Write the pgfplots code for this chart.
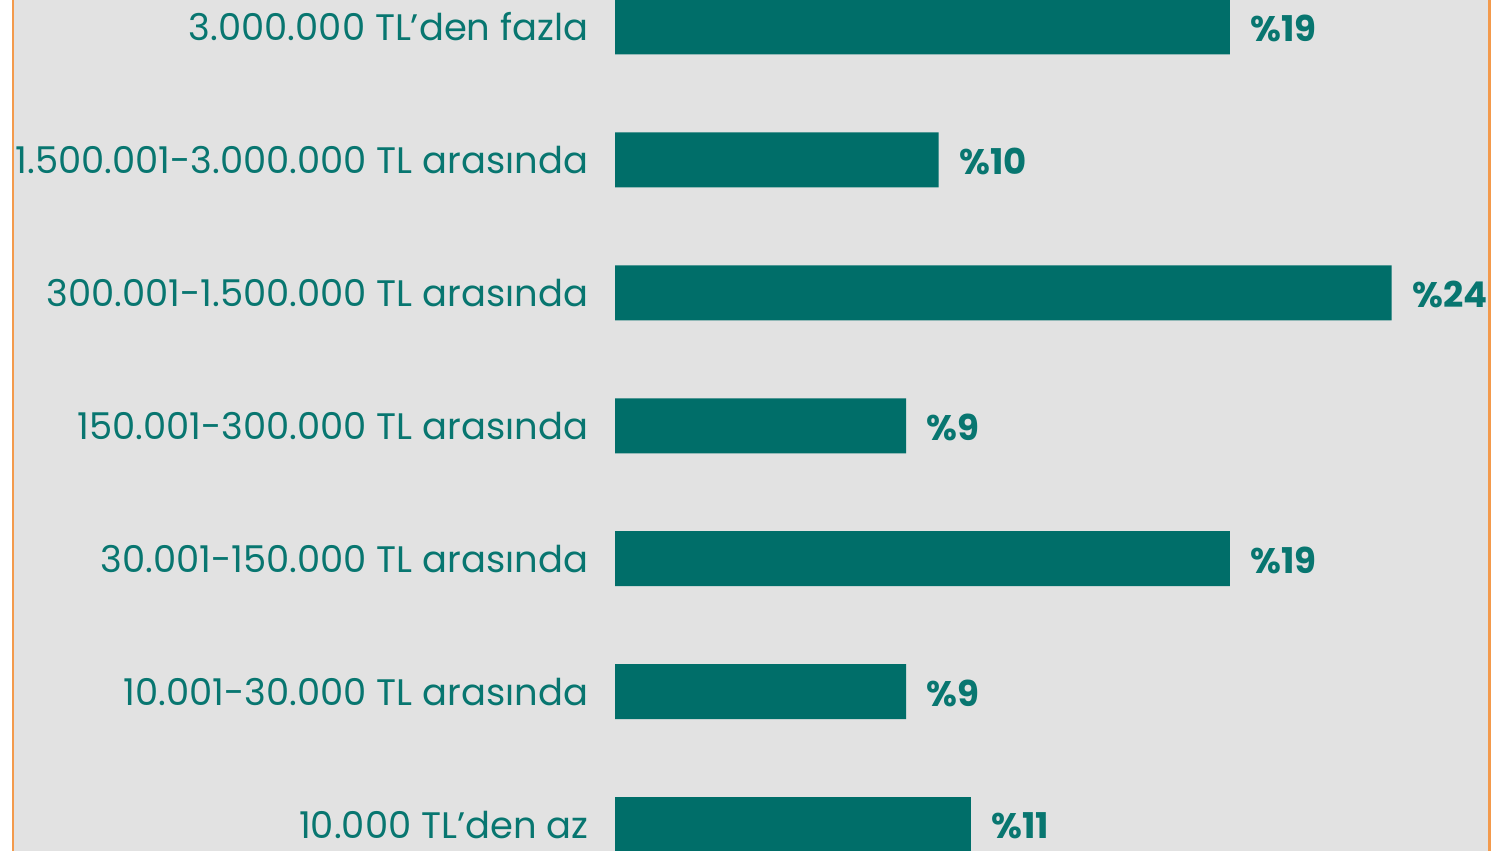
\documentclass[border=0pt]{standalone}
\usepackage{pgfplots}
\pgfplotsset{compat=1.18}
\usepackage{fontspec}
\setmainfont{Poppins}
\definecolor{barteal}{HTML}{006E69}
\definecolor{labteal}{HTML}{087670}
\definecolor{bggray}{HTML}{E2E2E2}
\definecolor{borderorange}{HTML}{F39A4C}
\begin{document}
\begin{tikzpicture}
\useasboundingbox (0,0) rectangle (149.7mm,85.1mm);
\fill[white] (0,0) rectangle (149.7mm,85.1mm);
\fill[bggray] (1.4mm,0) rectangle (148.9mm,85.1mm);
\draw[borderorange, line width=0.22mm] (1.3mm,0) -- (1.3mm,85.1mm);
\draw[borderorange, line width=0.22mm] (148.95mm,0) -- (148.95mm,85.1mm);
\begin{axis}[
  at={(0,0)}, anchor=south west,
  scale only axis, width=149.7mm, height=85.1mm,
  xbar, bar width=5.5mm,
  xmin=-19.01, xmax=27.26, ymin=-0.199, ymax=6.203,
  axis line style={draw=none},
  xtick=\empty,
  ytick={0,1,2,3,4,5,6},
  yticklabels={10.000 TL’den az, 10.001-30.000 TL arasında, 30.001-150.000 TL arasında, 150.001-300.000 TL arasında, 300.001-1.500.000 TL arasında, 1.500.001-3.000.000 TL arasında, 3.000.000 TL’den fazla},
  major tick length=0pt,
  /pgf/number format/assume math mode=true,
  yticklabel style={anchor=east, xshift=58.9mm, inner sep=0pt, font=\fontsize{10.5}{13}\selectfont, text=labteal},
  nodes near coords={\%\pgfmathprintnumber{\pgfplotspointmeta}},
  every node near coord/.append style={anchor=west, inner sep=0pt, xshift=2.0mm, yshift=-0.15mm, font=\fontsize{10.1}{13}\selectfont\bfseries, text=labteal},
  clip=false,
]
\addplot[fill=barteal, draw=none] coordinates {(11,0) (9,1) (19,2) (9,3) (24,4) (10,5) (19,6)};
\end{axis}
\end{tikzpicture}
\end{document}
